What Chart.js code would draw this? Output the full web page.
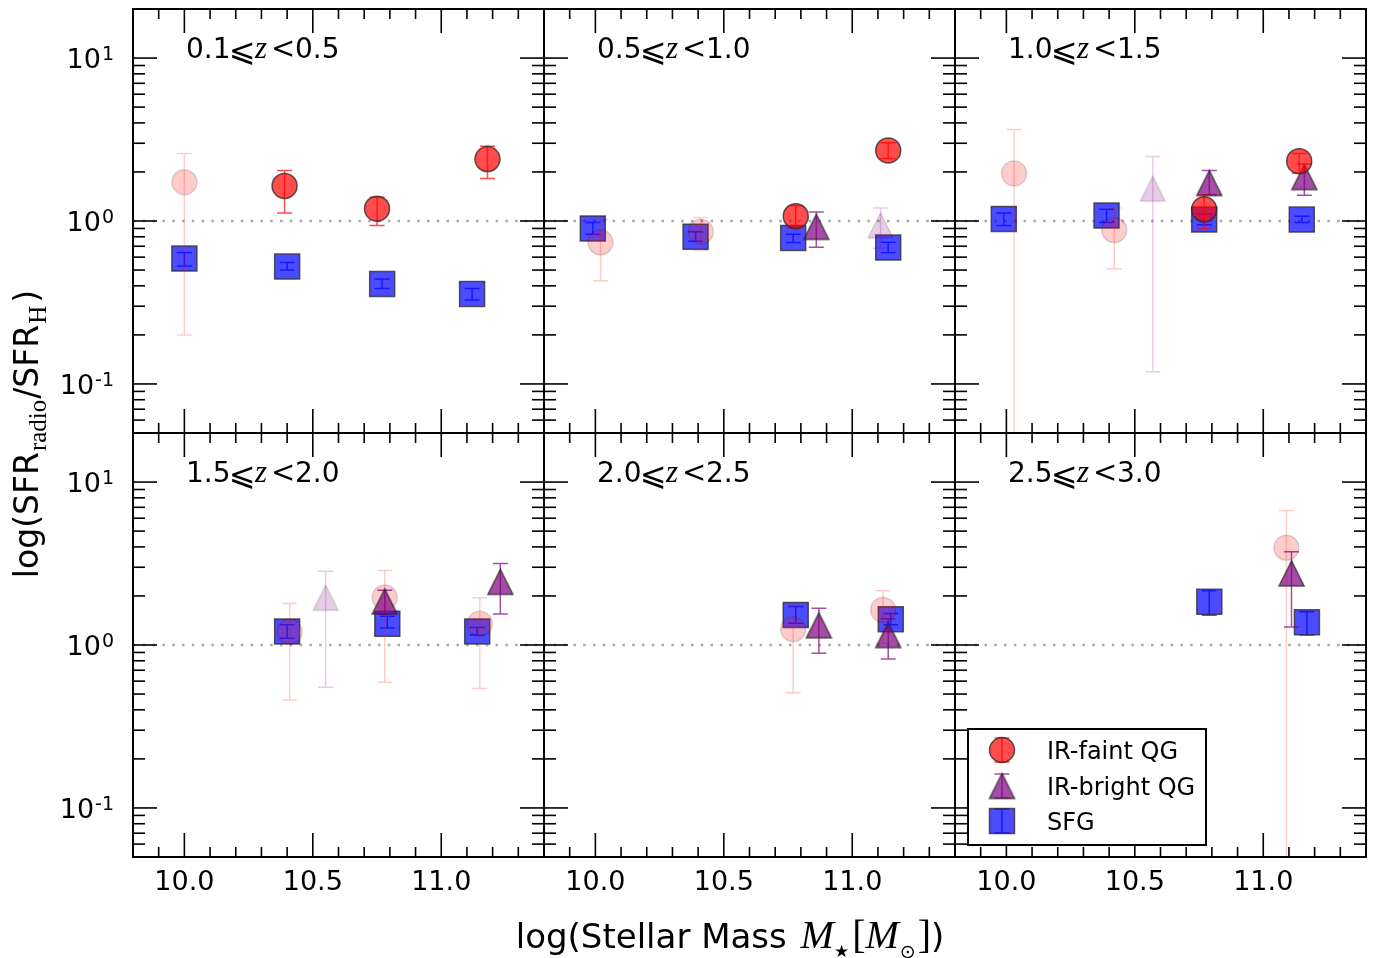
<!DOCTYPE html>
<html>
<head>
<meta charset="utf-8">
<title>SFR ratio vs stellar mass</title>
<script src="https://cdn.jsdelivr.net/npm/chart.js@4.4.1/dist/chart.umd.min.js"></script>
<style>
  html, body { margin: 0; padding: 0; background: #ffffff; }
  #fig { position: relative; width: 1379px; height: 958px; overflow: hidden; background: #ffffff; }
  #fig canvas { position: absolute; left: 0; top: 0; }
</style>
</head>
<body>
<div id="fig"></div>
<script>
// ---- data -------------------------------------------------------------
// redshift bin edges, one panel per consecutive pair
const zEdges = ['0.1', '0.5', '1.0', '1.5', '2.0', '2.5', '3.0'];

// axis ticks
const massMajorTicks = [10.0, 10.5, 11.0];
const massMajorLabels = ['10.0', '10.5', '11.0'];
const massMinorTicks = [9.9, 10.1, 10.2, 10.3, 10.4, 10.6, 10.7, 10.8, 10.9, 11.1, 11.2, 11.3];
const ratioMajorTicks = [0.1, 1, 10];
const ratioMajorExponents = ['-1', '0', '1'];
const ratioMinorTicks = [0.06, 0.07, 0.08, 0.09, 0.2, 0.3, 0.4, 0.5, 0.6, 0.7, 0.8, 0.9, 2, 3, 4, 5, 6, 7, 8, 9];

// IR-faint quiescent galaxies (one inner array per redshift panel)
const faintMass  = [[10.00, 10.39, 10.75, 11.18], [10.02, 10.41, 10.78, 11.14], [10.03, 10.42, 10.77, 11.14], [10.41, 10.78, 11.15], [10.77, 11.12], [11.09]];
const faintRatio = [[1.73, 1.64, 1.19, 2.40], [0.74, 0.86, 1.07, 2.71], [1.96, 0.88, 1.18, 2.33], [1.21, 1.96, 1.35], [1.25, 1.64], [3.95]];
const faintLow   = [[0.20, 1.12, 0.94, 1.82], [0.43, 0.66, 0.91, 2.42], [0.01, 0.51, 0.90, 1.97], [0.46, 0.59, 0.54], [0.51, 1.02], [0.01]];
const faintHigh  = [[2.60, 2.04, 1.40, 2.88], [1.02, 1.05, 1.24, 3.02], [3.64, 1.20, 1.44, 2.60], [1.80, 2.87, 1.95], [1.78, 2.15], [6.70]];
const faintFaded = [[1, 0, 0, 0], [1, 1, 0, 0], [1, 1, 0, 0], [1, 1, 1], [1, 1], [1]];

// IR-bright quiescent galaxies
const brightMass  = [[], [10.86, 11.11], [10.57, 10.79, 11.16], [10.55, 10.78, 11.23], [10.87, 11.14], [11.11]];
const brightRatio = [[], [0.92, 0.94], [1.58, 1.71, 1.86], [1.95, 1.85, 2.44], [1.32, 1.15], [2.75]];
const brightLow   = [[], [0.69, 0.68], [0.119, 1.45, 1.44], [0.55, 1.55, 1.55], [0.89, 0.82], [1.29]];
const brightHigh  = [[], [1.135, 1.20], [2.49, 2.04, 2.24], [2.84, 2.17, 3.16], [1.68, 1.45], [3.73]];
const brightFaded = [[], [0, 1], [1, 0, 0], [1, 0, 0], [0, 0], [0]];

// star-forming galaxies
const sfgMass  = [[10.00, 10.40, 10.77, 11.12], [9.99, 10.39, 10.77, 11.14], [9.99, 10.39, 10.77, 11.15], [10.40, 10.79, 11.14], [10.78, 11.15], [10.79, 11.17]];
const sfgRatio = [[0.588, 0.525, 0.411, 0.357], [0.90, 0.80, 0.787, 0.687], [1.03, 1.08, 1.02, 1.02], [1.21, 1.35, 1.21], [1.53, 1.44], [1.84, 1.38]];
const sfgLow   = [[0.53, 0.50, 0.385, 0.328], [0.83, 0.75, 0.737, 0.64], [0.94, 0.98, 0.95, 0.98], [1.10, 1.27, 1.15], [1.36, 1.33], [1.52, 1.15]];
const sfgHigh  = [[0.64, 0.556, 0.44, 0.385], [0.98, 0.86, 0.829, 0.74], [1.12, 1.18, 1.10, 1.07], [1.33, 1.50, 1.28], [1.72, 1.56], [2.15, 1.60]];

const legendLabels = ['IR-faint QG', 'IR-bright QG', 'SFG'];

// ---- layout & style ---------------------------------------------------
const FIG_W = 1379, FIG_H = 958;
const PANEL_W = 411, PANEL_H = 424;
const PANEL_X = [133, 544, 955];
const PANEL_Y = [9, 433];
const X_MIN = 9.8, X_MAX = 11.4, Y_MIN = 0.05, Y_MAX = 20;
const MARKER = 25;          // marker size in px
const CAP = 7.5;            // error-bar cap half width
const SANS = '"DejaVu Sans", "Noto Sans", sans-serif';
const SERIF = '"Liberation Serif", "DejaVu Serif", serif';

const EDGE = 'rgba(40,40,40,0.75)';
const EDGE_FADED = 'rgba(0,0,0,0.14)';
const RED = 'rgba(255,0,0,0.7)', RED_FADED = 'rgba(255,0,0,0.2)';
const PURPLE = 'rgba(128,0,128,0.7)', PURPLE_FADED = 'rgba(128,0,128,0.2)';
const BLUE = 'rgba(0,0,255,0.7)';

function triangleMarker(fill, edge, size) {
  const pad = 3;
  const c = document.createElement('canvas');
  c.width = size + 2 * pad;
  c.height = size + 2 * pad;
  const g = c.getContext('2d');
  g.beginPath();
  g.moveTo(pad + size / 2, pad);
  g.lineTo(pad, pad + size);
  g.lineTo(pad + size, pad + size);
  g.closePath();
  g.fillStyle = fill;
  g.fill();
  g.lineWidth = 1.5;
  g.strokeStyle = edge;
  g.stroke();
  return c;
}
const TRI = triangleMarker(PURPLE, EDGE, MARKER);
const TRI_FADED = triangleMarker(PURPLE_FADED, EDGE_FADED, MARKER);

function select(arr, flags, want) {
  return arr.filter((_, k) => (!!flags[k]) === want);
}
function toPoints(mass, ratio) {
  return mass.map((m, k) => ({ x: m, y: ratio[k] }));
}

// ---- plugins ----------------------------------------------------------
const errorBars = {
  id: 'errorBars',
  beforeDatasetDraw(chart, args) {
    const ds = chart.data.datasets[args.index];
    if (!ds.errLow) return;
    const { ctx, chartArea: a } = chart;
    const xs = chart.scales.x, ys = chart.scales.y;
    ctx.save();
    ctx.beginPath();
    ctx.rect(a.left, a.top, a.right - a.left, a.bottom - a.top);
    ctx.clip();
    ctx.strokeStyle = ds.errColor;
    ctx.lineWidth = 1.5;
    ds.data.forEach((p, k) => {
      const px = xs.getPixelForValue(p.x);
      const lo = ys.getPixelForValue(ds.errLow[k]);
      const hi = ys.getPixelForValue(ds.errHigh[k]);
      ctx.beginPath();
      ctx.moveTo(px, lo); ctx.lineTo(px, hi);
      ctx.moveTo(px - CAP, lo); ctx.lineTo(px + CAP, lo);
      ctx.moveTo(px - CAP, hi); ctx.lineTo(px + CAP, hi);
      ctx.stroke();
    });
    ctx.restore();
  }
};

function seg(ctx, x1, y1, x2, y2) {
  ctx.beginPath();
  ctx.moveTo(x1, y1);
  ctx.lineTo(x2, y2);
  ctx.stroke();
}

function drawPanelTitle(ctx, a, lo, hi) {
  const x0 = a.left + 53, base = a.top + 49;
  ctx.fillStyle = '#000';
  ctx.textAlign = 'left';
  ctx.textBaseline = 'alphabetic';
  ctx.font = '28px ' + SANS;
  ctx.fillText(lo, x0, base);
  ctx.font = '32px "DejaVu Sans"';
  ctx.fillText('\u2A7D', x0 + 43, base + 3);
  ctx.font = 'italic 31px ' + SERIF;
  ctx.fillText('z', x0 + 69, base);
  ctx.font = '29px "DejaVu Serif"';
  ctx.fillText('<', x0 + 85, base);
  ctx.font = '28px ' + SANS;
  ctx.fillText(hi, x0 + 109, base);
}

function drawRuns(ctx, runs, x, base) {
  let cx = x;
  runs.forEach(r => {
    ctx.font = r.font;
    cx += r.gap || 0;
    ctx.fillText(r.text, cx, base + (r.dy || 0));
    cx += ctx.measureText(r.text).width;
  });
  return cx;
}
function runsWidth(ctx, runs) {
  let w = 0;
  runs.forEach(r => { ctx.font = r.font; w += (r.gap || 0) + ctx.measureText(r.text).width; });
  return w;
}

function drawAxisTitles(ctx) {
  ctx.fillStyle = '#000';
  ctx.textAlign = 'left';
  ctx.textBaseline = 'alphabetic';
  const xRuns = [
    { text: 'log(Stellar Mass ', font: '34px ' + SANS },
    { text: 'M', font: 'italic 40px ' + SERIF, gap: 3 },
    { text: '\u2605', font: '17px "DejaVu Sans"', dy: 9, gap: 0 },
    { text: '[', font: '40px ' + SERIF, gap: 3 },
    { text: 'M', font: 'italic 40px ' + SERIF },
    { text: '\u2299', font: '19px "DejaVu Sans"', dy: 10, gap: 1 },
    { text: ']', font: '40px ' + SERIF, gap: 2 },
    { text: ')', font: '34px ' + SANS }
  ];
  const xw = runsWidth(ctx, xRuns);
  drawRuns(ctx, xRuns, 730 - xw / 2, 948);

  const yRuns = [
    { text: 'log(SFR', font: '33px ' + SANS },
    { text: 'radio', font: '25px ' + SERIF, dy: 8, gap: 1 },
    { text: '/SFR', font: '33px ' + SANS, gap: 1 },
    { text: 'H', font: '25px ' + SERIF, dy: 8, gap: 1 },
    { text: ')', font: '33px ' + SANS, gap: 3 }
  ];
  const yw = runsWidth(ctx, yRuns);
  ctx.save();
  ctx.translate(38, 434 + yw / 2);
  ctx.rotate(-Math.PI / 2);
  drawRuns(ctx, yRuns, 0, 0);
  ctx.restore();
}

function drawLegend(ctx, a) {
  const bx = a.left + 13, by = a.top + 296, bw = 238, bh = 116;
  ctx.save();
  ctx.fillStyle = '#fff';
  ctx.fillRect(bx, by, bw, bh);
  ctx.strokeStyle = '#000';
  ctx.lineWidth = 2;
  ctx.strokeRect(bx, by, bw, bh);
  const mx = a.left + 47;
  const rows = [a.top + 317, a.top + 353, a.top + 388];
  const errColors = [RED, PURPLE, BLUE];
  rows.forEach((ry, k) => {
    ctx.strokeStyle = errColors[k];
    ctx.lineWidth = 1.5;
    ctx.beginPath();
    ctx.moveTo(mx, ry - 12); ctx.lineTo(mx, ry + 12);
    ctx.moveTo(mx - CAP, ry - 12); ctx.lineTo(mx + CAP, ry - 12);
    ctx.moveTo(mx - CAP, ry + 12); ctx.lineTo(mx + CAP, ry + 12);
    ctx.stroke();
  });
  ctx.lineWidth = 1.5;
  ctx.strokeStyle = EDGE;
  ctx.fillStyle = RED;
  Chart.helpers.drawPoint(ctx, { pointStyle: 'circle', radius: MARKER / 2, rotation: 0, borderWidth: 1.5 }, mx, rows[0]);
  ctx.drawImage(TRI, mx - TRI.width / 2, rows[1] - TRI.height / 2);
  ctx.strokeStyle = EDGE;
  ctx.fillStyle = BLUE;
  Chart.helpers.drawPoint(ctx, { pointStyle: 'rect', radius: MARKER / Math.SQRT2, rotation: 0, borderWidth: 1.5 }, mx, rows[2]);
  ctx.fillStyle = '#000';
  ctx.font = '24px ' + SANS;
  ctx.textAlign = 'left';
  ctx.textBaseline = 'alphabetic';
  rows.forEach((ry, k) => ctx.fillText(legendLabels[k], a.left + 92, ry + 9));
  ctx.restore();
}

const panelFrame = {
  id: 'panelFrame',
  afterDraw(chart, args, opts) {
    const { ctx, chartArea: a } = chart;
    const xs = chart.scales.x, ys = chart.scales.y;
    const idx = opts.index, row = Math.floor(idx / 3), col = idx % 3;
    ctx.save();
    ctx.strokeStyle = '#000';
    ctx.lineWidth = 1.6;
    ctx.lineCap = 'butt';
    massMajorTicks.forEach(v => {
      const px = xs.getPixelForValue(v);
      seg(ctx, px, a.top, px, a.top + 24);
      seg(ctx, px, a.bottom, px, a.bottom - 24);
    });
    massMinorTicks.forEach(v => {
      const px = xs.getPixelForValue(v);
      seg(ctx, px, a.top, px, a.top + 10);
      seg(ctx, px, a.bottom, px, a.bottom - 10);
    });
    ratioMajorTicks.forEach(v => {
      const py = ys.getPixelForValue(v);
      seg(ctx, a.left, py, a.left + 24, py);
      seg(ctx, a.right, py, a.right - 24, py);
    });
    ratioMinorTicks.forEach(v => {
      const py = ys.getPixelForValue(v);
      seg(ctx, a.left, py, a.left + 12, py);
      seg(ctx, a.right, py, a.right - 12, py);
    });
    ctx.lineWidth = 2;
    ctx.strokeRect(a.left, a.top, a.right - a.left, a.bottom - a.top);

    ctx.fillStyle = '#000';
    ctx.textBaseline = 'alphabetic';
    if (col === 0) {
      ratioMajorTicks.forEach((v, k) => {
        const py = ys.getPixelForValue(v);
        const xr = a.left - 19;
        ctx.font = '19px ' + SANS;
        ctx.textAlign = 'right';
        ctx.fillText(ratioMajorExponents[k], xr, py + 2);
        const ew = ctx.measureText(ratioMajorExponents[k]).width;
        ctx.font = '27px ' + SANS;
        ctx.fillText('10', xr - ew - 1, py + 10);
      });
    }
    if (row === 1) {
      ctx.font = '27px ' + SANS;
      ctx.textAlign = 'center';
      massMajorTicks.forEach((v, k) => {
        ctx.fillText(massMajorLabels[k], xs.getPixelForValue(v), a.bottom + 33);
      });
    }
    drawPanelTitle(ctx, a, zEdges[idx], zEdges[idx + 1]);
    if (idx === 5) drawLegend(ctx, a);
    if (idx === 0) drawAxisTitles(ctx);
    ctx.restore();
  }
};

// ---- build the six panels --------------------------------------------
const fig = document.getElementById('fig');
for (let i = 0; i < 6; i++) {
  const row = Math.floor(i / 3), col = i % 3;
  const left = PANEL_X[col], top = PANEL_Y[row];
  const canvas = document.createElement('canvas');
  canvas.width = FIG_W;
  canvas.height = FIG_H;
  canvas.style.width = FIG_W + 'px';
  canvas.style.height = FIG_H + 'px';
  fig.appendChild(canvas);

  const fFl = faintFaded[i], bFl = brightFaded[i];
  const datasets = [
    {
      type: 'line', label: 'unity',
      data: [{ x: X_MIN, y: 1 }, { x: X_MAX, y: 1 }],
      borderColor: '#a9a9a9', borderWidth: 2.5, borderDash: [2.5, 7.3],
      pointRadius: 0, order: 10
    },
    {
      label: 'SFG', data: toPoints(sfgMass[i], sfgRatio[i]),
      errLow: sfgLow[i], errHigh: sfgHigh[i], errColor: BLUE,
      pointStyle: 'rect', pointRadius: MARKER / Math.SQRT2,
      backgroundColor: BLUE, borderColor: EDGE, borderWidth: 1.5, order: 8
    },
    {
      label: 'IR-faint QG (low S/N)',
      data: toPoints(select(faintMass[i], fFl, true), select(faintRatio[i], fFl, true)),
      errLow: select(faintLow[i], fFl, true), errHigh: select(faintHigh[i], fFl, true), errColor: RED_FADED,
      pointStyle: 'circle', pointRadius: MARKER / 2,
      backgroundColor: RED_FADED, borderColor: EDGE_FADED, borderWidth: 1.5, order: 7
    },
    {
      label: 'IR-bright QG (low S/N)',
      data: toPoints(select(brightMass[i], bFl, true), select(brightRatio[i], bFl, true)),
      errLow: select(brightLow[i], bFl, true), errHigh: select(brightHigh[i], bFl, true), errColor: PURPLE_FADED,
      pointStyle: TRI_FADED, pointRadius: MARKER / 2, order: 6
    },
    {
      label: 'IR-bright QG',
      data: toPoints(select(brightMass[i], bFl, false), select(brightRatio[i], bFl, false)),
      errLow: select(brightLow[i], bFl, false), errHigh: select(brightHigh[i], bFl, false), errColor: PURPLE,
      pointStyle: TRI, pointRadius: MARKER / 2, order: 5
    },
    {
      label: 'IR-faint QG',
      data: toPoints(select(faintMass[i], fFl, false), select(faintRatio[i], fFl, false)),
      errLow: select(faintLow[i], fFl, false), errHigh: select(faintHigh[i], fFl, false), errColor: RED,
      pointStyle: 'circle', pointRadius: MARKER / 2,
      backgroundColor: RED, borderColor: EDGE, borderWidth: 1.5, order: 4
    }
  ];

  new Chart(canvas, {
    type: 'scatter',
    data: { datasets },
    options: {
      responsive: false,
      animation: false,
      devicePixelRatio: 1,
      events: [],
      layout: {
        autoPadding: false,
        padding: { left: left, top: top, right: FIG_W - left - PANEL_W, bottom: FIG_H - top - PANEL_H }
      },
      scales: {
        x: { type: 'linear', min: X_MIN, max: X_MAX, display: false },
        y: { type: 'logarithmic', min: Y_MIN, max: Y_MAX, display: false }
      },
      plugins: {
        legend: { display: false },
        tooltip: { enabled: false },
        panelFrame: { index: i }
      }
    },
    plugins: [errorBars, panelFrame]
  });
}
</script>
</body>
</html>
